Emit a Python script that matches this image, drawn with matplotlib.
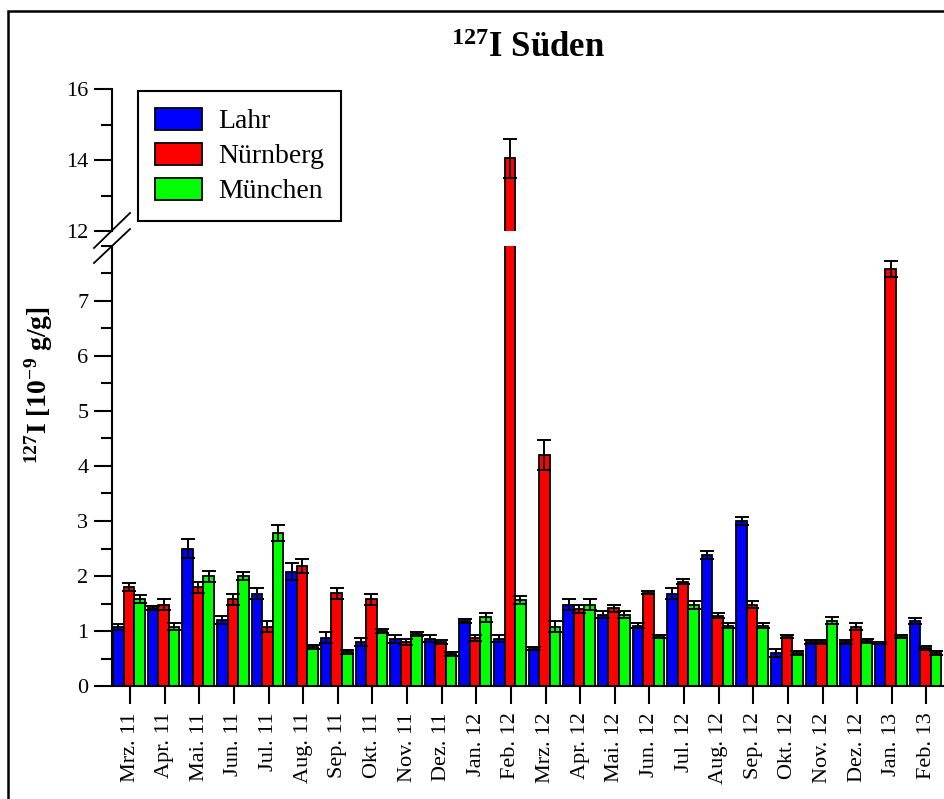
import numpy as np
import matplotlib
matplotlib.use('Agg')
import matplotlib.pyplot as plt
from matplotlib.lines import Line2D
from matplotlib.patches import Rectangle
from matplotlib.ticker import MultipleLocator

plt.rcParams['font.family'] = ['Liberation Serif', 'DejaVu Serif']
plt.rcParams['mathtext.fontset'] = 'custom'
plt.rcParams['mathtext.rm'] = 'Liberation Serif'
plt.rcParams['mathtext.bf'] = 'Liberation Serif:bold'

months = ['Mrz. 11', 'Apr. 11', 'Mai. 11', 'Jun. 11', 'Jul. 11', 'Aug. 11', 'Sep. 11', 'Okt. 11',
          'Nov. 11', 'Dez. 11', 'Jan. 12', 'Feb. 12', 'Mrz. 12', 'Apr. 12', 'Mai. 12', 'Jun. 12',
          'Jul. 12', 'Aug. 12', 'Sep. 12', 'Okt. 12', 'Nov. 12', 'Dez. 12', 'Jan. 13', 'Feb. 13']

lahr = [1.07, 1.42, 2.50, 1.20, 1.68, 2.08, 0.88, 0.80, 0.86, 0.86, 1.18, 0.86,
        0.68, 1.48, 1.30, 1.10, 1.68, 2.38, 3.00, 0.60, 0.80, 0.80, 0.78, 1.18]
lahr_err = [0.06, 0.04, 0.17, 0.07, 0.10, 0.15, 0.10, 0.07, 0.07, 0.06, 0.04, 0.06,
            0.03, 0.10, 0.06, 0.04, 0.10, 0.07, 0.07, 0.07, 0.04, 0.04, 0.02, 0.05]
nuernberg = [1.80, 1.48, 1.80, 1.58, 1.08, 2.18, 1.69, 1.58, 0.80, 0.80, 0.87, 14.05,
             4.20, 1.40, 1.41, 1.70, 1.90, 1.28, 1.48, 0.90, 0.80, 1.08, 7.58, 0.69]
nuernberg_err = [0.08, 0.10, 0.10, 0.10, 0.10, 0.13, 0.10, 0.10, 0.05, 0.04, 0.06, 0.55,
                 0.27, 0.07, 0.06, 0.03, 0.04, 0.05, 0.07, 0.02, 0.03, 0.07, 0.14, 0.03]
muenchen = [1.58, 1.08, 2.00, 2.00, 2.78, 0.71, 0.62, 1.00, 0.95, 0.58, 1.25, 1.57,
            1.08, 1.48, 1.30, 0.90, 1.47, 1.10, 1.10, 0.60, 1.19, 0.82, 0.90, 0.60]
muenchen_err = [0.07, 0.06, 0.10, 0.07, 0.14, 0.03, 0.03, 0.03, 0.04, 0.04, 0.08, 0.07,
                0.10, 0.10, 0.07, 0.03, 0.07, 0.04, 0.04, 0.04, 0.07, 0.04, 0.02, 0.04]

series = [('Lahr', lahr, lahr_err, '#0000ff'),
          ('Nürnberg', nuernberg, nuernberg_err, '#ff0000'),
          ('München', muenchen, muenchen_err, '#00ff00')]

W, H = 944, 799
fig = plt.figure(figsize=(W / 100, H / 100), dpi=100)

left, right = 112 / W, 943 / W
ax_bot = fig.add_axes([left, (H - 686) / H, right - left, 440 / H])
ax_top = fig.add_axes([left, (H - 231) / H, right - left, 142 / H], sharex=ax_bot)

x = np.arange(len(months))
w = 0.305
for ax in (ax_bot, ax_top):
    for k, (name, vals, err, col) in enumerate(series):
        pos = x + (k - 1) * w - 0.03
        ax.bar(pos, vals, width=w, color=col, edgecolor='black', linewidth=1.3, label=name)
        ax.errorbar(pos, vals, yerr=err, fmt='none', ecolor='black',
                    elinewidth=1.4, capsize=5, capthick=1.4)
    ax.spines['top'].set_visible(False)
    ax.spines['right'].set_visible(False)
    ax.spines['left'].set_linewidth(1.5)
    ax.spines['bottom'].set_linewidth(1.5)
    ax.tick_params(axis='y', which='major', direction='out', length=13, width=1.5,
                   labelsize=16, pad=4)
    ax.tick_params(axis='y', which='minor', direction='out', length=8, width=1.5)

ax_bot.set_ylim(0, 8)
ax_bot.set_yticks(range(0, 8))
ax_bot.yaxis.set_minor_locator(MultipleLocator(0.5))
ax_top.set_ylim(12, 16)
ax_top.set_yticks([12, 14, 16])
ax_top.yaxis.set_minor_locator(MultipleLocator(1))

ax_bot.set_xlim(-0.52, 23.48)
ax_bot.set_xticks(x)
ax_bot.set_xticklabels(months, rotation=90, fontsize=16)
ax_bot.tick_params(axis='x', direction='out', length=13, width=1.5, pad=6)
ax_top.spines['bottom'].set_visible(False)
ax_top.tick_params(axis='x', which='both', bottom=False, labelbottom=False)

# Achsenbruch-Markierung
for (x0, y0, x1, y1) in [(94, 248, 130, 213), (94, 263, 130, 229)]:
    fig.add_artist(Line2D([x0 / W, x1 / W], [1 - y0 / H, 1 - y1 / H],
                          color='black', lw=1.3))

ax_top.set_title(r'$\mathbf{^{127}}$I Süden', fontsize=25, fontweight='bold', pad=23)
fig.text(39 / W, 1 - 385 / H, r'$\mathbf{^{127}}$I [10$\mathbf{^{-9}}$ g/g]',
         rotation=90, ha='center', va='center', fontsize=20, fontweight='bold')

leg = ax_top.legend(loc='upper left', bbox_to_anchor=(138 / W, 1 - 91 / H),
                    bbox_transform=fig.transFigure, fontsize=20, frameon=True,
                    fancybox=False, edgecolor='black', framealpha=1,
                    handlelength=1.7, handleheight=0.85, labelspacing=0.3,
                    borderpad=0.6, handletextpad=0.6, borderaxespad=0)
leg.get_frame().set_linewidth(1.5)
leg.set_zorder(10)

# Rahmen
fig.add_artist(Rectangle((8 / W, -0.02), 1.0, 1 - 11 / H + 0.02, transform=fig.transFigure,
                         fill=False, edgecolor='black', lw=1.8))

fig.savefig('out.png', dpi=100)
